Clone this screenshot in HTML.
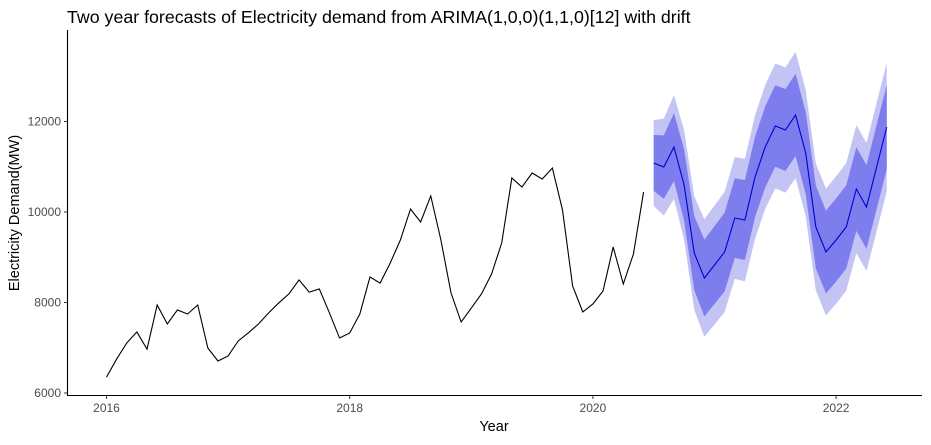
<!DOCTYPE html>
<html><head><meta charset="utf-8"><style>
body{margin:0;background:#fff;font-family:"Liberation Sans",sans-serif}
</style></head><body>
<svg id="chart" width="931" height="440" xmlns="http://www.w3.org/2000/svg" font-family="Liberation Sans, sans-serif">
<text x="67" y="23" font-size="17.8" fill="#000">Two year forecasts of Electricity demand from ARIMA(1,0,0)(1,1,0)[12] with drift</text>
<g id="bands"></g><g id="lines"></g>
<line x1="67.5" y1="30" x2="67.5" y2="395.5" stroke="#000" stroke-width="1.1"/>
<line x1="67" y1="395.5" x2="922" y2="395.5" stroke="#000" stroke-width="1.1"/>
<g id="axes"></g>
<text x="494" y="431" font-size="14.5" text-anchor="middle">Year</text>
<text transform="translate(19,213) rotate(-90)" font-size="14.5" text-anchor="middle">Electricity Demand(MW)</text>
</svg>
<script>
const history=[6350,6750,7105,7350,6970,7945,7525,7835,7745,7945,6995,6707,6818,7150,7330,7525,7770,7990,8190,8500,8230,8300,7770,7215,
7326,7746,8563,8430,8873,9381,10066,9779,10354,9381,8210,7569,7878,8188,8630,9315,10751,10552,10862,10729,10972,10044,8365,7790,7967,8254,9227,8409,9072,10442];
const forecast=[11083,10994,11436,10597,9094,8541,8829,9116,9867,9823,10773,11436,11901,11812,12144,11304,9669,9116,9381,9669,10508,10110,10994,11878];
const half80=[620,700,750,790,820,850,860,870,880,885,890,895,900,905,910,910,915,915,920,920,925,925,930,930];
const half95=[950,1070,1150,1210,1255,1300,1315,1330,1345,1355,1365,1370,1380,1385,1395,1395,1400,1400,1410,1410,1415,1415,1420,1420];
const yTicks=[6000,8000,10000,12000];
const xTicks=[2016,2018,2020,2022];
const startYear=2016;
const NS="http://www.w3.org/2000/svg";
const xs=t=>106.5+(t-2016)*121.6;
const ys=v=>393-(v-6000)*0.04525;
const tm=i=>startYear+i/12;
function mk(tag,attrs,parent){const e=document.createElementNS(NS,tag);for(const k in attrs)e.setAttribute(k,attrs[k]);document.getElementById(parent).appendChild(e);return e;}
function band(h){const n=forecast.length;let up=[],lo=[];for(let i=0;i<n;i++){const x=xs(tm(history.length+i));up.push(x+','+ys(forecast[i]+h[i]));lo.unshift(x+','+ys(forecast[i]-h[i]));}return up.concat(lo).join(' ');}
const b95=mk('polygon',{points:band(half95),fill:'#c4c4f4'},'bands');


const b80=mk('polygon',{points:band(half80),fill:'#7d7dee'},'bands');


const hl=mk('polyline',{points:history.map((v,i)=>xs(tm(i))+','+ys(v)).join(' '),fill:'none',stroke:'#000','stroke-width':1.1},'lines');


const fl=mk('polyline',{points:forecast.map((v,i)=>xs(tm(history.length+i))+','+ys(v)).join(' '),fill:'none',stroke:'#0000cc','stroke-width':1.1},'lines');


yTicks.forEach(v=>{const y=ys(v);
mk('line',{x1:64,x2:67.5,y1:y,y2:y,stroke:'#333'},'axes');
const t=mk('text',{x:61,y:y+4,'font-size':12,fill:'#4d4d4d','text-anchor':'end'},'axes');t.textContent=v;

});
xTicks.forEach(v=>{const x=xs(v);
mk('line',{x1:x,x2:x,y1:395.5,y2:399,stroke:'#333'},'axes');
const t=mk('text',{x:x,y:412,'font-size':12,fill:'#4d4d4d','text-anchor':'middle'},'axes');t.textContent=v;

});
</script>
</body></html>
